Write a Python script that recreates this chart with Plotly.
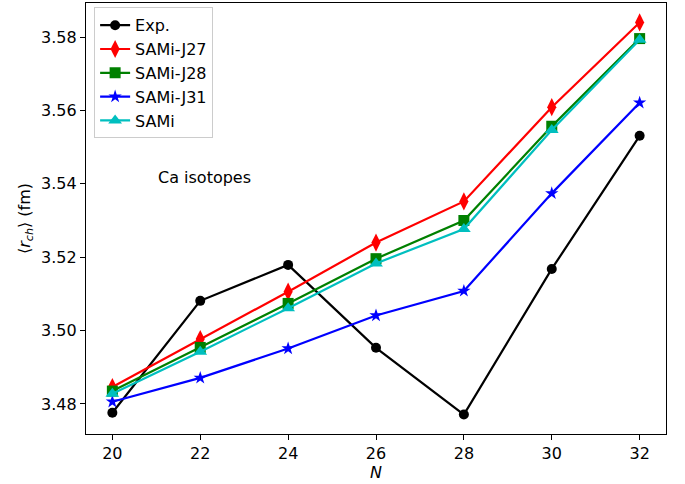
import plotly.graph_objects as go

N = [20, 22, 24, 26, 28, 30, 32]
exp_r = [3.4776, 3.5081, 3.5179, 3.4953, 3.4771, 3.5168, 3.5531]
j27 = [3.4846, 3.4977, 3.5106, 3.5240, 3.5352, 3.5609, 3.5840]
j28 = [3.4835, 3.4954, 3.5074, 3.5196, 3.5300, 3.5557, 3.5796]
sami = [3.4828, 3.4942, 3.5061, 3.5183, 3.5277, 3.5547, 3.5793]
j31 = [3.4806, 3.4871, 3.4951, 3.5041, 3.5108, 3.5374, 3.5621]
xticks = [20, 22, 24, 26, 28, 30, 32]
yticks = [3.48, 3.50, 3.52, 3.54, 3.56, 3.58]

series = [
    ("Exp.", exp_r, "black", "circle", 10),
    ("SAMi-J27", j27, "red", "diamond-tall", 13),
    ("SAMi-J28", j28, "green", "square", 11),
    ("SAMi-J31", j31, "blue", "star", 10),
    ("SAMi", sami, "#00bfbf", "triangle-up", 12),
]

FS = 16

fig = go.Figure()
for name, ys, col, sym, ms in series:
    fig.add_trace(go.Scatter(
        x=N, y=ys, name=name, mode="lines+markers",
        line=dict(color=col, width=2.2),
        marker=dict(symbol=sym, size=ms, color=col, line=dict(width=0)),
    ))

fig.add_annotation(x=21, y=3.5417, xref="x", yref="y", text="Ca isotopes",
                   showarrow=False, xanchor="left", yanchor="middle",
                   font=dict(size=FS, color="black"))

axis_common = dict(showline=True, linecolor="black", linewidth=1.2, mirror=True,
                   ticks="outside", ticklen=5, tickwidth=1, tickcolor="black",
                   showgrid=False, zeroline=False, automargin=False,
                   tickfont=dict(size=FS, color="black"))

fig.update_layout(
    width=685, height=484,
    margin=dict(l=86, r=19, t=3, b=50),
    paper_bgcolor="white", plot_bgcolor="white",
    font=dict(family="DejaVu Sans", color="black"),
    xaxis=dict(range=[19.4, 32.6], tickvals=xticks,
               title=dict(text="<i>N</i>", font=dict(size=FS), standoff=2),
               **axis_common),
    yaxis=dict(range=[3.4718, 3.5893], tickvals=yticks, tickformat=".2f",
               title=dict(text="⟨<i>r</i><sub><i>ch</i></sub>⟩ (fm)", font=dict(size=FS), standoff=6),
               **axis_common),
    legend=dict(x=0.014, y=0.99, xanchor="left", yanchor="top",
                bgcolor="rgba(255,255,255,0.8)", bordercolor="#cccccc", borderwidth=1,
                font=dict(size=FS), itemwidth=30, tracegroupgap=0),
    showlegend=True,
)

fig.write_html("out.html", config={"displayModeBar": False},
               post_script="document.body.style.margin='0';")
